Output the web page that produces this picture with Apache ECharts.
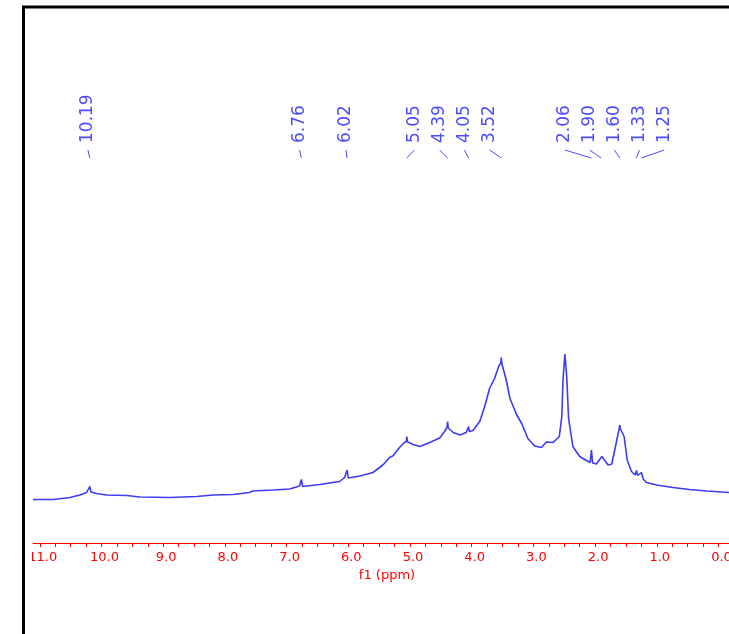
<!DOCTYPE html>
<html>
<head>
<meta charset="utf-8" />
<script src="https://cdn.jsdelivr.net/npm/echarts@6/dist/echarts.min.js"></script>
<style>
  html, body { margin: 0; padding: 0; background: #fff; }
  #chart { width: 729px; height: 634px; }
</style>
</head>
<body>
<div id="chart"></div>
<script>
// spectrum trace (chemical shift in ppm, intensity in arbitrary units)
var ppm = [11.11, 10.78, 10.51, 10.35, 10.24, 10.21, 10.19, 10.17, 10.08, 9.92, 9.59, 9.38, 8.89, 8.46, 8.19, 7.87, 7.60, 7.55, 7.22, 6.95,
           6.79, 6.77, 6.76, 6.74, 6.71, 6.46, 6.25, 6.14, 6.06, 6.03, 6.02, 6.00, 5.98, 5.81, 5.60, 5.44, 5.33, 5.28, 5.17, 5.10,
           5.06, 5.05, 5.04, 5.00, 4.95, 4.84, 4.68, 4.52, 4.44, 4.40, 4.39, 4.38, 4.30, 4.19, 4.09, 4.06, 4.05, 4.04, 3.98, 3.87,
           3.79, 3.71, 3.63, 3.56, 3.53, 3.52, 3.51, 3.44, 3.38, 3.27, 3.19, 3.09, 2.98, 2.87, 2.79, 2.68, 2.58, 2.54, 2.52, 2.49,
           2.46, 2.43, 2.36, 2.25, 2.14, 2.08, 2.06, 2.04, 1.98, 1.89, 1.79, 1.73, 1.66, 1.61, 1.60, 1.59, 1.53, 1.48, 1.41, 1.35,
           1.33, 1.31, 1.28, 1.25, 1.22, 1.17, 1.00, 0.74, 0.47, 0.19, -0.17];
var intensity = [8.7, 8.7, 9.1, 9.6, 10.1, 10.2, 11.3, 10.2, 9.9, 9.6, 9.5, 9.2, 9.1, 9.3, 9.6, 9.7, 10.1, 10.4, 10.6, 10.8,
                 11.4, 11.4, 12.7, 11.3, 11.3, 11.7, 12.1, 12.3, 13.1, 13.2, 14.6, 13.0, 12.9, 13.4, 14.1, 15.6, 17.1, 17.4, 19.1, 20.0,
                 20.3, 21.3, 20.2, 20.0, 19.7, 19.3, 20.1, 21.0, 22.3, 23.1, 24.3, 23.0, 22.1, 21.6, 22.1, 22.3, 23.3, 22.3, 22.5, 24.3,
                 27.3, 30.9, 32.9, 35.4, 35.9, 37.1, 35.8, 32.6, 28.9, 25.6, 23.9, 20.9, 19.4, 19.1, 20.2, 20.1, 21.3, 25.3, 32.6, 37.8,
                 33.3, 24.9, 19.3, 17.3, 16.5, 16.1, 18.6, 16.0, 15.8, 17.3, 15.6, 15.8, 19.9, 22.9, 23.6, 22.8, 21.3, 16.6, 14.3, 13.6,
                 14.5, 13.5, 13.1, 14.1, 12.8, 12.1, 11.6, 11.1, 10.7, 10.4, 10.1];

// peak picking labels
var peakText = ['10.19', '6.76', '6.02', '5.05', '4.39', '4.05', '3.52', '2.06', '1.90', '1.60', '1.33', '1.25'];
var peakPpm = [10.19, 6.76, 6.02, 5.05, 4.39, 4.05, 3.52, 2.06, 1.90, 1.60, 1.33, 1.25];
var labelPpm = [10.22, 6.79, 6.04, 4.93, 4.52, 4.12, 3.71, 2.49, 2.09, 1.69, 1.28, 0.88];

// axis ticks
var tickValues = [];
for (var t = 0; t <= 11; t += 0.25) tickValues.push(t);
var labelValues = [0, 1, 2, 3, 4, 5, 6, 7, 8, 9, 10, 11];

var trace = ppm.map(function (p, i) { return [p, intensity[i]]; });
var peaks = peakPpm.map(function (p, i) { return [labelPpm[i], 80, p, i]; });

var chart = echarts.init(document.getElementById('chart'));
chart.setOption({
    animation: false,
    grid: { left: 33, right: 0, top: 43, bottom: 91, containLabel: false, outerBoundsMode: 'none' },
    xAxis: {
        type: 'value',
        inverse: true,
        min: -0.17,
        max: 11.11,
        name: 'f1 (ppm)',
        nameLocation: 'middle',
        nameGap: 23,
        nameTextStyle: { color: '#ff0000', fontFamily: 'DejaVu Sans', fontSize: 13, padding: [0, 0, 0, 12] },
        axisLine: { lineStyle: { color: '#ff0000', width: 1 } },
        axisTick: { show: true, length: 4, customValues: tickValues, lineStyle: { color: '#ff0000' } },
        axisLabel: {
            customValues: labelValues,
            color: '#ff0000',
            fontFamily: 'DejaVu Sans',
            fontSize: 13,
            margin: 8,
            padding: [0, 0, 0, 6],
            hideOverlap: false,
            showMinLabel: true,
            showMaxLabel: true,
            formatter: function (v) { return v.toFixed(1); }
        },
        splitLine: { show: false }
    },
    yAxis: { type: 'value', min: 0, max: 100, show: false },
    series: [
        {
            type: 'line',
            data: trace,
            symbol: 'none',
            lineStyle: { color: '#3c3cf5', width: 1.6 },
            clip: true
        },
        {
            type: 'custom',
            data: peaks,
            clip: false,
            renderItem: function (params, api) {
                var top = api.coord([api.value(0), api.value(1)]);
                var a = api.coord([api.value(0), 78.6]);
                var b = api.coord([api.value(2), 77]);
                return {
                    type: 'group',
                    children: [
                        {
                            type: 'text',
                            x: top[0],
                            y: top[1],
                            rotation: Math.PI / 2,
                            style: {
                                text: peakText[api.value(3)],
                                x: 0, y: 0,
                                align: 'left',
                                verticalAlign: 'middle',
                                fill: '#4b4bff',
                                font: '17px "DejaVu Sans"'
                            }
                        },
                        {
                            type: 'line',
                            shape: { x1: a[0], y1: a[1], x2: b[0], y2: b[1] },
                            style: { stroke: '#4b4bff', lineWidth: 1 }
                        }
                    ]
                };
            }
        }
    ],
    graphic: [
        {
            type: 'rect',
            shape: { x: 23.5, y: 7, width: 900, height: 900 },
            style: { fill: 'none', stroke: '#000', lineWidth: 3 },
            z: 100
        },
        {
            type: 'rect',
            shape: { x: 25, y: 548, width: 7, height: 20 },
            style: { fill: '#fff' },
            z: 99
        }
    ]
});
</script>
</body>
</html>
